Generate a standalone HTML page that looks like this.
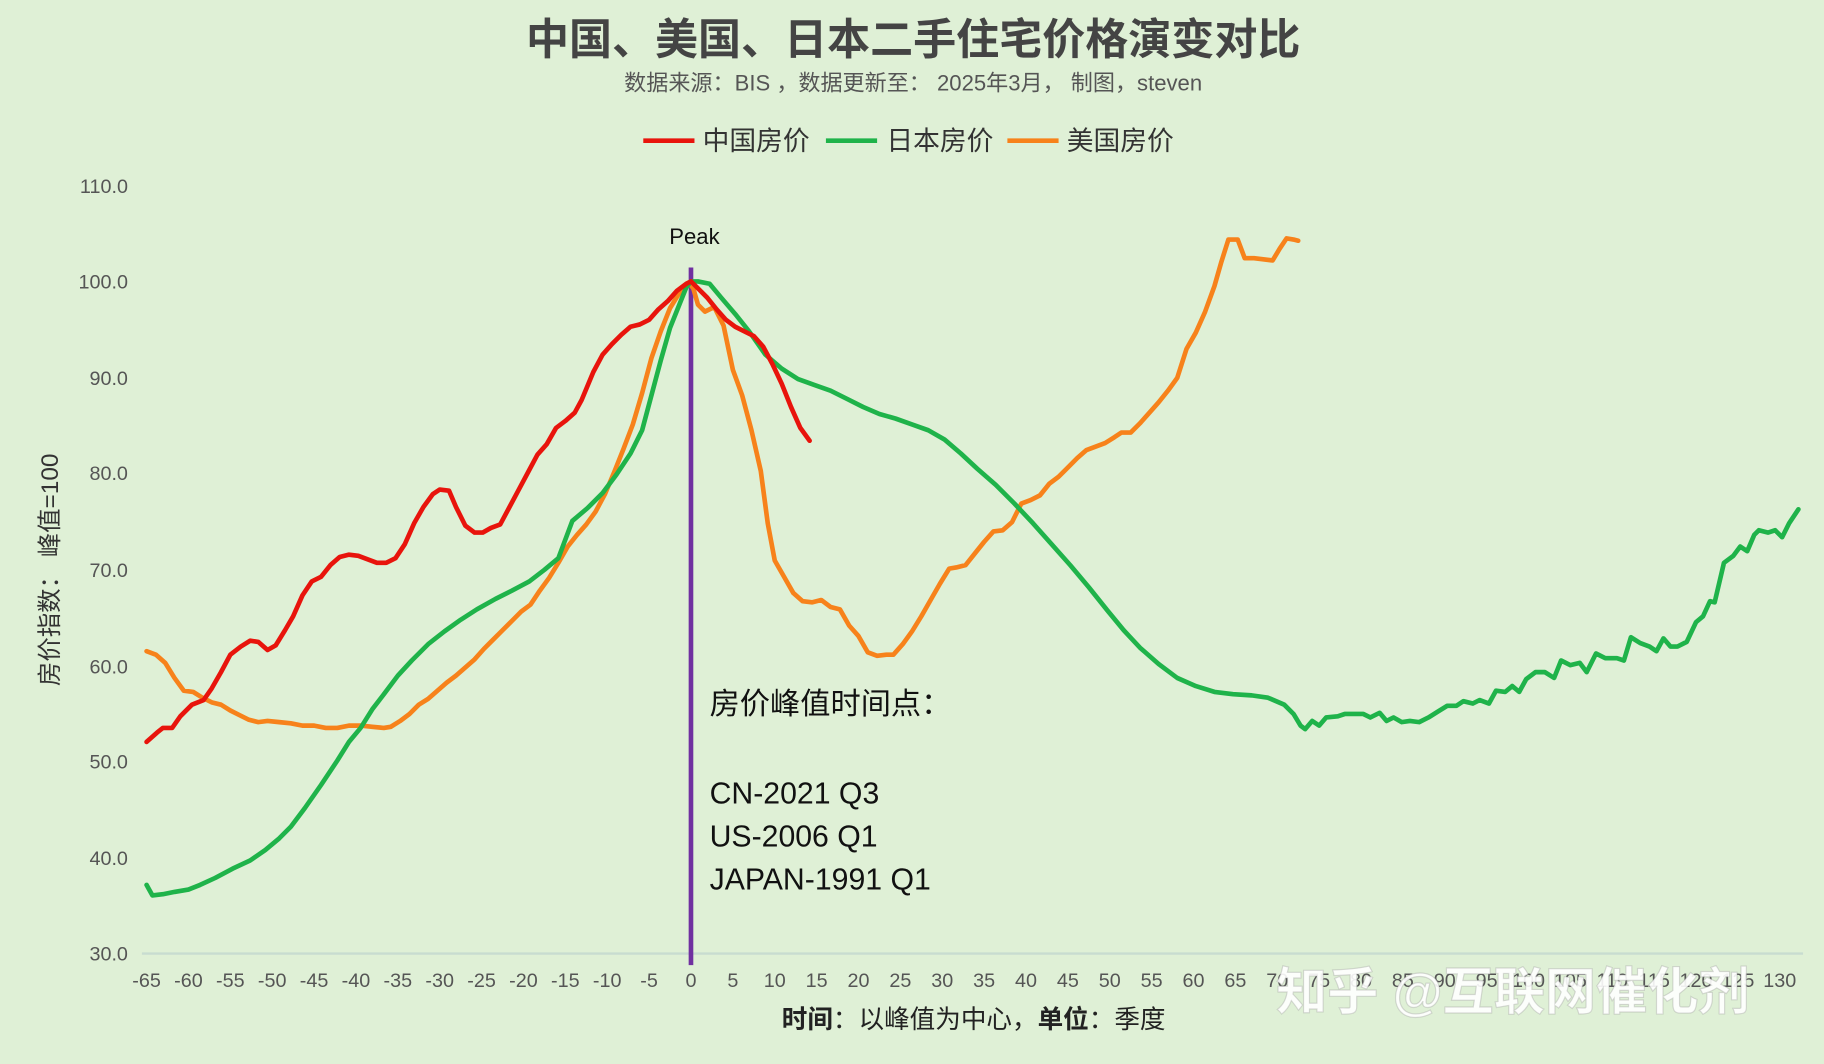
<!DOCTYPE html>
<html><head><meta charset="utf-8"><style>
html,body{margin:0;padding:0;background:#dff0d6;}
svg{display:block}
text{font-family:"Liberation Sans","Noto Sans CJK SC",sans-serif;}
</style></head><body>
<svg width="1824" height="1064" viewBox="0 0 1568 915" preserveAspectRatio="none" xmlns="http://www.w3.org/2000/svg">
<rect width="1568" height="915" fill="#dff0d6"/>
<text x="785" y="47" font-size="37" font-weight="bold" fill="#444" text-anchor="middle">中国、美国、日本二手住宅价格演变对比</text>
<text x="785" y="78" font-size="19" fill="#555" text-anchor="middle">数据来源：BIS ，数据更新至： 2025年3月， 制图，steven</text>
<g font-size="23" fill="#333">
<line x1="553" y1="121" x2="597" y2="121" stroke="#e8140c" stroke-width="4"/><text x="604" y="129">中国房价</text>
<line x1="710" y1="121" x2="754" y2="121" stroke="#1fb34a" stroke-width="4"/><text x="762" y="129">日本房价</text>
<line x1="866" y1="121" x2="910" y2="121" stroke="#f7821b" stroke-width="4"/><text x="917" y="129">美国房价</text>
</g>
<g font-size="17" fill="#555" text-anchor="end">
<text x="110" y="166">110.0</text><text x="110" y="248">100.0</text><text x="110" y="331">90.0</text><text x="110" y="413">80.0</text><text x="110" y="496">70.0</text><text x="110" y="579">60.0</text><text x="110" y="661">50.0</text><text x="110" y="744">40.0</text><text x="110" y="826">30.0</text>
</g>
<line x1="122" y1="820" x2="1550" y2="820" stroke="#c8dcd0" stroke-width="2"/>
<g font-size="17" fill="#555" text-anchor="middle">
<text x="126" y="849">-65</text><text x="162" y="849">-60</text><text x="198" y="849">-55</text><text x="234" y="849">-50</text><text x="270" y="849">-45</text><text x="306" y="849">-40</text><text x="342" y="849">-35</text><text x="378" y="849">-30</text><text x="414" y="849">-25</text><text x="450" y="849">-20</text><text x="486" y="849">-15</text><text x="522" y="849">-10</text><text x="558" y="849">-5</text><text x="594" y="849">0</text><text x="630" y="849">5</text><text x="666" y="849">10</text><text x="702" y="849">15</text><text x="738" y="849">20</text><text x="774" y="849">25</text><text x="810" y="849">30</text><text x="846" y="849">35</text><text x="882" y="849">40</text><text x="918" y="849">45</text><text x="954" y="849">50</text><text x="990" y="849">55</text><text x="1026" y="849">60</text><text x="1062" y="849">65</text><text x="1098" y="849">70</text><text x="1134" y="849">75</text><text x="1170" y="849">80</text><text x="1206" y="849">85</text><text x="1242" y="849">90</text><text x="1278" y="849">95</text><text x="1314" y="849">100</text><text x="1350" y="849">105</text><text x="1386" y="849">110</text><text x="1422" y="849">115</text><text x="1458" y="849">120</text><text x="1494" y="849">125</text><text x="1530" y="849">130</text>
</g>
<text x="837" y="884" font-size="22" fill="#222" text-anchor="middle"><tspan font-weight="bold">时间</tspan>：以峰值为中心，<tspan font-weight="bold">单位</tspan>：季度</text>
<text transform="translate(50,490) rotate(-90)" font-size="21" fill="#333" text-anchor="middle">房价指数： 峰值=100</text>
<line x1="594" y1="230" x2="594" y2="830" stroke="#7030a0" stroke-width="4"/>
<text x="597" y="210" font-size="19" fill="#111" text-anchor="middle">Peak</text>
<g fill="none" stroke-width="4" stroke-linejoin="round" stroke-linecap="round">
<polyline stroke="#f7821b" points="126,560 134,563 142,570 150,583 158,594 166,595 174,600 182,604 190,606 198,611 206,615 214,619 222,621 230,620 240,621 250,622 260,624 270,624 280,626 290,626 300,624 310,624 320,625 330,626 336,625 344,620 352,614 360,606 368,601 376,594 384,587 392,581 400,574 408,567 416,558 424,550 432,542 440,534 448,526 456,520 464,508 472,497 480,484 488,470 496,460 504,451 512,440 520,425 528,406 536,386 544,365 552,338 560,308 568,285 576,265 584,252 592,243 596,248 600,262 606,268 614,264 622,280 630,318 638,340 646,370 654,405 660,450 666,482 674,496 682,510 690,517 698,518 706,516 714,522 722,524 730,538 738,547 746,561 754,564 762,563 768,563 776,554 784,543 792,530 800,516 808,502 816,489 822,488 830,486 838,476 846,466 854,457 862,456 870,449 878,433 886,430 894,426 902,416 910,410 918,402 926,394 934,387 942,384 950,381 958,376 964,372 972,372 980,364 988,355 996,346 1004,336 1012,325 1020,300 1028,286 1036,268 1044,246 1050,225 1056,206 1064,206 1070,222 1078,222 1086,223 1094,224 1100,214 1106,205 1112,206 1116,207"/>
<polyline stroke="#1fb34a" points="126,761 131,770 140,769 150,767 162,765 172,761 185,755 200,747 215,740 228,731 240,721 250,711 262,695 276,675 290,654 300,638 310,626 320,610 330,597 342,581 354,568 368,554 382,543 396,533 410,524 426,515 440,508 455,500 468,490 480,480 492,448 505,437 518,424 530,408 542,390 552,370 560,340 568,310 576,282 584,262 590,247 594,242 600,242 610,244 620,256 632,270 644,285 658,305 672,317 686,326 700,331 714,336 728,343 742,350 756,356 770,360 784,365 798,370 812,378 826,390 840,403 856,417 872,433 888,450 904,468 920,486 936,505 952,525 966,542 980,557 996,571 1012,583 1028,590 1044,595 1060,597 1076,598 1090,600 1104,606 1112,614 1118,624 1122,627 1128,620 1134,624 1140,617 1150,616 1156,614 1165,614 1172,614 1178,617 1186,613 1192,620 1198,617 1205,621 1212,620 1220,621 1228,617 1236,612 1244,607 1252,607 1258,603 1266,605 1272,602 1280,605 1286,594 1294,595 1300,590 1306,595 1312,584 1320,578 1328,578 1336,583 1342,568 1350,572 1358,570 1364,578 1372,562 1380,566 1390,566 1396,568 1402,548 1410,553 1418,556 1424,560 1430,549 1436,556 1442,556 1450,552 1458,535 1464,530 1470,517 1474,518 1482,484 1490,478 1496,470 1502,474 1508,460 1512,456 1520,458 1526,456 1532,462 1538,450 1546,438"/>
<polyline stroke="#e8140c" points="126,638 135,630 140,626 148,626 155,616 165,606 175,602 182,592 190,578 198,563 207,556 215,551 222,552 230,559 237,555 245,542 252,530 260,512 268,500 276,496 284,486 292,479 300,477 308,478 316,481 324,484 332,484 340,480 348,468 356,450 364,436 372,425 378,421 386,422 392,436 400,452 408,458 415,458 422,454 430,451 438,436 446,421 454,406 462,391 470,382 478,368 486,362 494,355 500,344 510,320 518,305 526,296 534,288 542,281 550,279 558,275 566,266 574,259 582,250 590,244 594,242 600,248 608,256 616,266 624,275 632,281 640,285 648,289 656,298 664,313 672,330 680,350 688,368 696,379"/>
</g>
<g font-size="26" fill="#111">
<text x="610" y="614">房价峰值时间点：</text>
<text x="610" y="691">CN-2021 Q3</text>
<text x="610" y="728">US-2006 Q1</text>
<text x="610" y="765">JAPAN-1991 Q1</text>
</g>
<text x="1097" y="868" font-size="44" font-weight="bold" fill="#ffffff" fill-opacity="0.9" stroke="#999" stroke-opacity="0.35" stroke-width="1">知乎 @互联网催化剂</text>
</svg>
</body></html>
